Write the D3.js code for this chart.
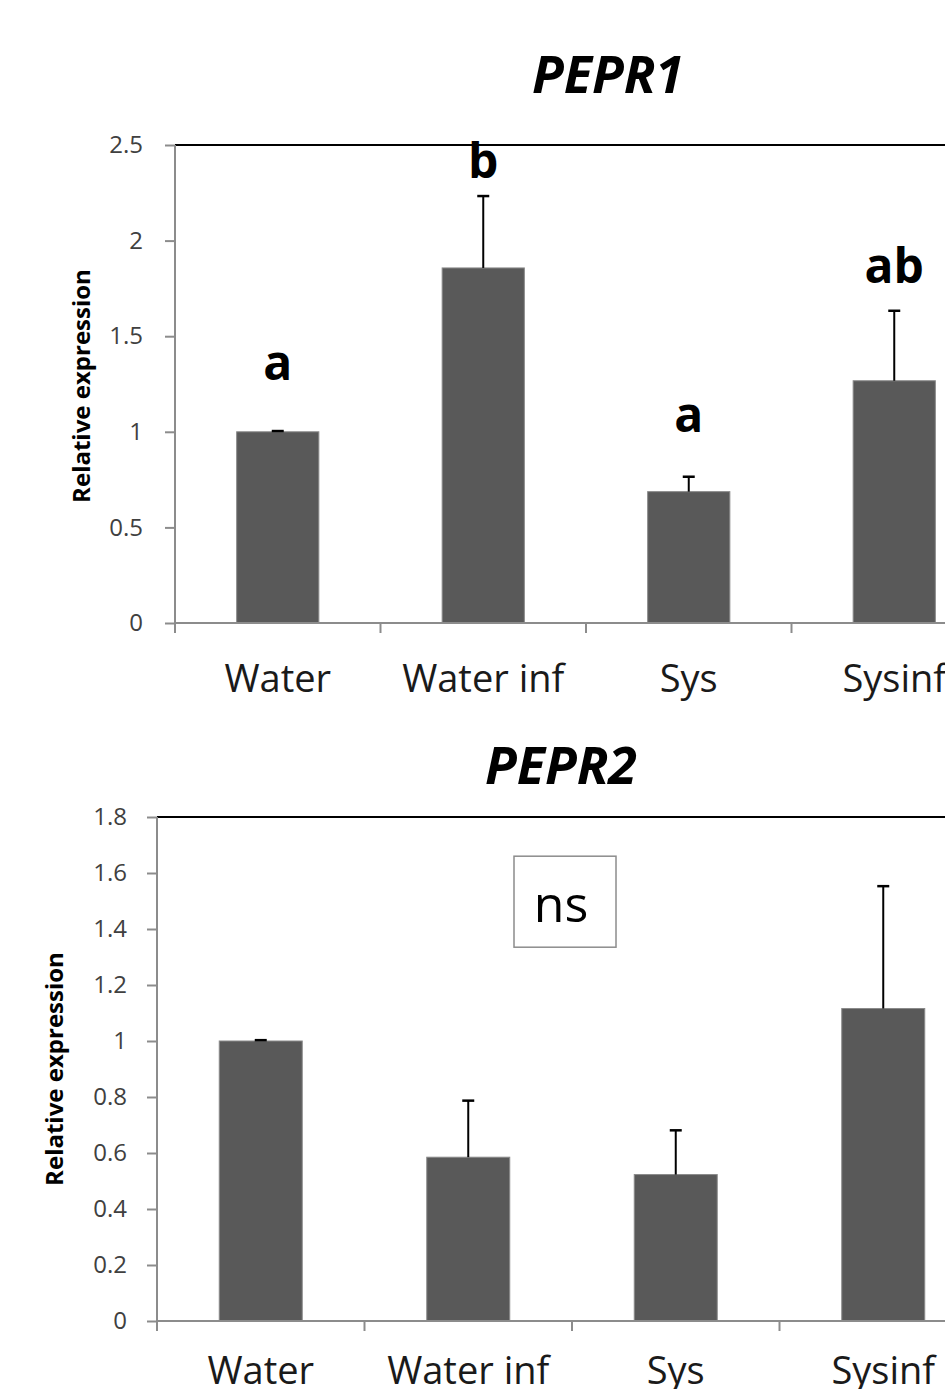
<!DOCTYPE html>
<html><head><meta charset="utf-8">
<script src="https://cdn.jsdelivr.net/npm/d3@7"></script>
<style>body{margin:0;background:#fff}svg{display:block}</style>
</head><body>
<svg id="c" width="945" height="1389"></svg>
<script>
const categories = ["Water", "Water inf", "Sys", "Sysinf"];
const pepr1Values = [1.0, 1.857, 0.687, 1.267];
const pepr1Errors = [0.004, 0.376, 0.078, 0.366];
const pepr1Letters = ["a", "b", "a", "ab"];
const pepr1LetterLevels = [1.271, 2.327, 0.999, 1.778];
const pepr1Ticks = [0, 0.5, 1, 1.5, 2, 2.5];
const pepr2Values = [1.0, 0.585, 0.523, 1.116];
const pepr2Errors = [0.003, 0.202, 0.158, 0.437];
const pepr2Ticks = [0, 0.2, 0.4, 0.6, 0.8, 1, 1.2, 1.4, 1.6, 1.8];

const svg = d3.select("#c");
const FONT = "'Open Sans', sans-serif";

function panel(cfg) {
  const g = svg.append("g");
  const y = d3.scaleLinear().domain([0, cfg.ymax]).range([cfg.bottom, cfg.top]);
  const x = d3.scaleBand().domain(categories).range([cfg.left, cfg.left + 4 * cfg.step]).padding(0);
  g.append("line").attr("x1", cfg.left).attr("x2", 945).attr("y1", cfg.top).attr("y2", cfg.top)
    .attr("stroke", "#000").attr("stroke-width", 2);
  const bw = x.bandwidth() * cfg.barFrac;
  g.selectAll("rect.bar").data(cfg.values).join("rect")
    .attr("x", (d, i) => x(categories[i]) + (x.bandwidth() - bw) / 2)
    .attr("width", bw)
    .attr("y", d => y(d)).attr("height", d => y(0) - y(d))
    .attr("fill", "#595959").attr("stroke", "#8a8a8a").attr("stroke-width", 1);
  cfg.values.forEach((v, i) => {
    const cx = x(categories[i]) + x.bandwidth() / 2;
    const yt = y(v + cfg.errors[i]);
    g.append("line").attr("x1", cx).attr("x2", cx).attr("y1", y(v)).attr("y2", yt)
      .attr("stroke", "#000").attr("stroke-width", 2);
    g.append("line").attr("x1", cx - 6).attr("x2", cx + 6).attr("y1", yt).attr("y2", yt)
      .attr("stroke", "#000").attr("stroke-width", 2.5);
  });
  const ya = g.append("g").attr("transform", `translate(${cfg.left},0)`)
    .call(d3.axisLeft(y).tickValues(cfg.ticks).tickSize(10).tickPadding(cfg.tickPad).tickFormat(d3.format("")));
  ya.select(".domain").attr("stroke", "#8c8c8c").attr("stroke-width", 2).attr("d", `M0,${cfg.top}V${cfg.bottom + 10}`);
  ya.selectAll(".tick line").attr("stroke", "#8c8c8c").attr("stroke-width", 2);
  ya.selectAll(".tick text").attr("font-family", FONT).attr("font-size", 24).attr("fill", "#404040");
  const xa = g.append("g");
  xa.append("line").attr("x1", cfg.left).attr("x2", 945).attr("y1", cfg.bottom).attr("y2", cfg.bottom)
    .attr("stroke", "#8c8c8c").attr("stroke-width", 2);
  const bounds = categories.map(c => x(c));
  xa.selectAll("line.t").data(bounds).join("line").attr("class", "t")
    .attr("x1", d => d).attr("x2", d => d).attr("y1", cfg.bottom).attr("y2", cfg.bottom + 10)
    .attr("stroke", "#8c8c8c").attr("stroke-width", 2);
  xa.selectAll("text").data(categories).join("text")
    .attr("x", c => x(c) + x.bandwidth() / 2).attr("y", cfg.labelY)
    .attr("text-anchor", "middle").attr("font-family", FONT).attr("font-size", 38).attr("fill", "#1a1a1a")
    .text(c => c);
  g.append("text").attr("transform", `translate(${cfg.ytitleX},${cfg.ytitleY}) rotate(-90)`)
    .attr("text-anchor", "middle").attr("font-family", FONT).attr("font-weight", "bold")
    .attr("font-size", 24).attr("fill", "#000").text("Relative expression");
  g.append("text").attr("x", cfg.titleX).attr("y", cfg.titleY).attr("text-anchor", "middle")
    .attr("font-family", FONT).attr("font-weight", "bold").attr("font-style", "italic")
    .attr("font-size", 52).attr("fill", "#000").text(cfg.title);
  return {g, x, y};
}

const p1 = panel({title: "PEPR1", titleX: 608, titleY: 93, top: 145, bottom: 623, left: 175, step: 205.5,
  ymax: 2.5, ticks: pepr1Ticks, values: pepr1Values, errors: pepr1Errors, barFrac: 0.4,
  labelY: 692, ytitleX: 90, ytitleY: 386, tickPad: 22});
p1.g.selectAll("text.let").data(pepr1Letters).join("text").attr("class", "let")
  .attr("x", (d, i) => p1.x(categories[i]) + p1.x.bandwidth() / 2)
  .attr("y", (d, i) => p1.y(pepr1LetterLevels[i]))
  .attr("text-anchor", "middle").attr("font-family", FONT).attr("font-weight", "bold")
  .attr("font-size", 48).attr("fill", "#000").text(d => d);

const p2 = panel({title: "PEPR2", titleX: 561, titleY: 784, top: 817, bottom: 1321, left: 157, step: 207.5,
  ymax: 1.8, ticks: pepr2Ticks, values: pepr2Values, errors: pepr2Errors, barFrac: 0.4,
  labelY: 1384, ytitleX: 63, ytitleY: 1069, tickPad: 20});
p2.g.append("rect").attr("x", 514).attr("y", p2.y(1.66)).attr("width", 102).attr("height", p2.y(1.335) - p2.y(1.66))
  .attr("fill", "#fff").attr("stroke", "#8c8c8c").attr("stroke-width", 1.5);
p2.g.append("text").attr("x", 561).attr("y", p2.y(1.425)).attr("text-anchor", "middle")
  .attr("font-family", FONT).attr("font-size", 50).attr("fill", "#000").text("ns");
</script>
</body></html>
